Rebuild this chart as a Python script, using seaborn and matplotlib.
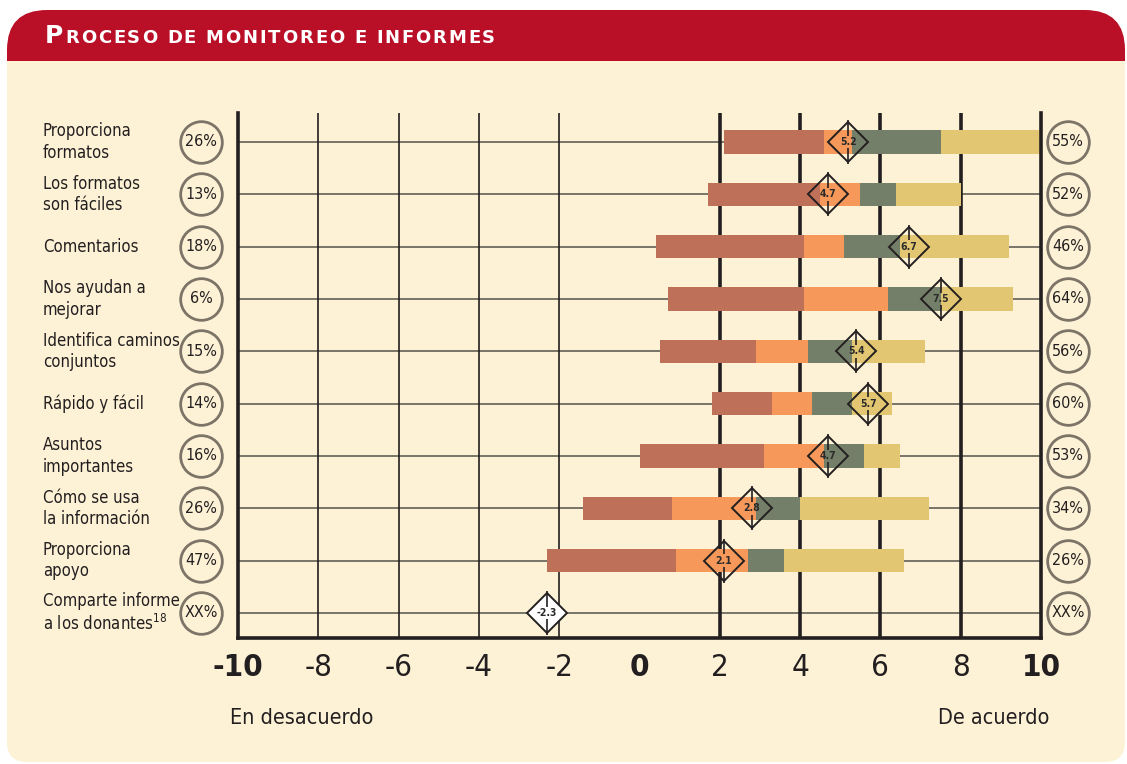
import matplotlib
matplotlib.use("Agg")
import matplotlib.pyplot as plt
import matplotlib.transforms as mtransforms
from matplotlib.patches import FancyBboxPatch, Rectangle
import seaborn as sns
import numpy as np

# ---------- data ----------
categories = ["Proporciona\nformatos", "Los formatos\nson fáciles", "Comentarios",
              "Nos ayudan a\nmejorar", "Identifica caminos\nconjuntos", "Rápido y fácil",
              "Asuntos\nimportantes", "Cómo se usa\nla información", "Proporciona\napoyo",
              "Comparte informe\na los donantes$^{18}$"]
seg_start = [2.1, 1.7, 0.4, 0.7, 0.5, 1.8, 0.0, -1.4, -2.3, np.nan]
seg_b1 = [4.6, 4.5, 4.1, 4.1, 2.9, 3.3, 3.1, 0.8, 0.9, np.nan]
seg_b2 = [5.3, 5.5, 5.1, 6.2, 4.2, 4.3, 4.6, 2.9, 2.7, np.nan]
seg_b3 = [7.5, 6.4, 6.5, 7.5, 5.3, 5.3, 5.6, 4.0, 3.6, np.nan]
seg_end = [10.0, 8.0, 9.2, 9.3, 7.1, 6.3, 6.5, 7.2, 6.6, np.nan]
means = [5.2, 4.7, 6.7, 7.5, 5.4, 5.7, 4.7, 2.8, 2.1, -2.3]
left_pct = ["26%", "13%", "18%", "6%", "15%", "14%", "16%", "26%", "47%", "XX%"]
right_pct = ["55%", "52%", "46%", "64%", "56%", "60%", "53%", "34%", "26%", "XX%"]
xticks = list(range(-10, 11, 2))
title = "PROCESO DE MONITOREO E INFORMES"

seg_colors = ["#be7059", "#f5985a", "#737f68", "#e3c672"]
cream = "#fdf2d6"
red = "#b90f27"
dark = "#231f20"

# ---------- style ----------
sns.set_theme(style="white")
plt.rcParams["font.family"] = ["DejaVu Sans"]
plt.rcParams["font.stretch"] = "condensed"
plt.rcParams["mathtext.fontset"] = "custom"
plt.rcParams["mathtext.rm"] = "DejaVu Sans:stretch=condensed"

W, H = 1127, 764
fig = plt.figure(figsize=(W / 100, H / 100), dpi=100)
fig.patch.set_facecolor("white")
pix = mtransforms.IdentityTransform()

# background panel and header band
band_bottom = 61
fig.patches.append(FancyBboxPatch((7, H - 140), 1118, 130, boxstyle="round,pad=0,rounding_size=40",
                                  transform=pix, facecolor=red, edgecolor="none", zorder=-10))
fig.patches.append(FancyBboxPatch((7, 2), 1118, H - band_bottom - 2,
                                  boxstyle="round,pad=0,rounding_size=20",
                                  transform=pix, facecolor=cream, edgecolor="none", zorder=-9))
fig.patches.append(Rectangle((7, H - band_bottom - 40), 1118, 40, transform=pix,
                             facecolor=cream, edgecolor="none", zorder=-9))

# title in small caps with a little extra tracking
renderer = fig.canvas.get_renderer()
title_kw = dict(color="white", fontweight="bold", family="DejaVu Sans", stretch="normal",
                va="baseline", ha="left")
sizes = [18] + [13] * (len(title) - 1)
widths = []
for ch, sz in zip(title, sizes):
    if ch == " ":
        widths.append(sz * 100 / 72 * 0.33)
        continue
    t = fig.text(0, 0, ch, fontsize=sz, **title_kw)
    widths.append(t.get_window_extent(renderer).width)
    t.remove()
x0, x1 = 45, 495
gap = (x1 - x0 - sum(widths)) / (len(title) - 1)
xc = x0
for ch, sz, w in zip(title, sizes, widths):
    if ch != " ":
        fig.text(xc / W, 1 - 43 / H, ch, fontsize=sz, **title_kw)
    xc += w + gap

# ---------- main axes ----------
ax = fig.add_axes([238 / W, 1 - 638 / H, (1041 - 238) / W, (638 - 113) / H])
ax.set_facecolor("none")
rows = np.arange(len(categories))

ax.hlines(rows, -10, 10, color="#6e6a60", lw=1.3, zorder=1)
for x in xticks:
    if x in (-10, 0, 10):
        continue
    ax.axvline(x, color=dark, lw=2.6 if x > 0 else 1.2, zorder=1)

bounds = [seg_start, seg_b1, seg_b2, seg_b3, seg_end]
for i, col in enumerate(seg_colors):
    left = np.array(bounds[i])
    width = np.array(bounds[i + 1]) - left
    ax.barh(rows, width, left=left, height=0.45, color=col, edgecolor="none", zorder=2)

# diamonds with value and a vertical tick broken around the number
for r, m in zip(rows, means):
    fc = "white" if np.isnan(seg_start[r]) else "none"
    ax.plot(m, r, marker="D", ms=20, mfc=fc, mec=dark, mew=1.4, zorder=5)
    ax.vlines([m, m], [r - 0.42, r + 0.12], [r - 0.12, r + 0.42], color=dark, lw=1.2, zorder=5)
    ax.text(m, r, f"{m:.1f}", ha="center", va="center", fontsize=7.5, fontweight="bold",
            color="#2a2a2a", zorder=6)

ax.set_xlim(-10, 10)
ax.set_ylim(9.478, -0.554)
ax.set_yticks([])
ax.set_xticks(xticks)
ax.set_xticklabels([str(x) for x in xticks])
for lab, x in zip(ax.get_xticklabels(), xticks):
    lab.set_fontweight("bold" if x in (-10, 0, 10) else "normal")
ax.tick_params(axis="x", length=0, pad=11, labelsize=22.5, labelcolor=dark)

sns.despine(ax=ax, top=True, right=False, left=False, bottom=False)
for side in ("left", "right", "bottom"):
    ax.spines[side].set_color(dark)
    ax.spines[side].set_linewidth(2.6)

# row labels and percentage circles
yblend = mtransforms.blended_transform_factory(fig.transFigure, ax.transData)
for r in rows:
    fig.text(43 / W, r, categories[r], transform=yblend, ha="left", va="center",
             fontsize=12, color=dark, linespacing=1.25)
    for xp, txt in ((201 / W, left_pct[r]), (1068 / W, right_pct[r])):
        ax.plot(xp, r, transform=yblend, marker="o", ms=30, mfc="none", mec="#7d7468",
                mew=2, clip_on=False)
        ax.text(xp, r, txt, transform=yblend, ha="center", va="center", fontsize=11.5,
                color=dark, clip_on=False)

fig.text(230 / W, 1 - 718 / H, "En desacuerdo", ha="left", va="center", fontsize=15.5, color=dark)
fig.text(1049 / W, 1 - 718 / H, "De acuerdo", ha="right", va="center", fontsize=15.5, color=dark)

fig.savefig("out.png", dpi=100, facecolor=fig.get_facecolor())
